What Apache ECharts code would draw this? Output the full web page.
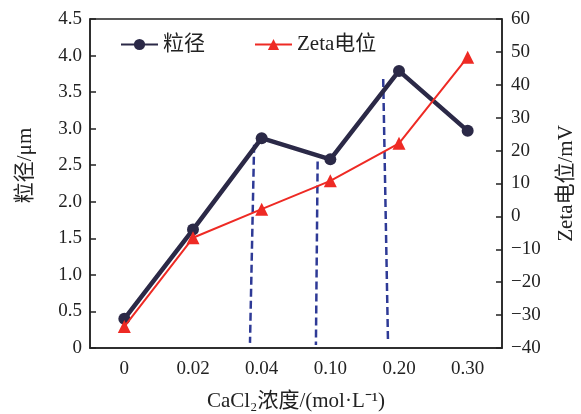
<!DOCTYPE html>
<html><head><meta charset="utf-8">
<script src="https://cdn.jsdelivr.net/npm/echarts@6/dist/echarts.min.js"></script>
<style>html,body{margin:0;padding:0;background:#fff}#c{width:581px;height:414px}</style>
</head><body><div id="c"></div>
<script>
const categories = ['0', '0.02', '0.04', '0.10', '0.20', '0.30'];
const particleSize = [0.40, 1.62, 2.87, 2.58, 3.79, 2.97];
const zetaPotential = [-33.5, -6.5, 2.2, 10.8, 22.2, 48.4];
// dashed guide lines: [categoryPosition, value] pairs (top, bottom)
const dashLine1 = [[1.89, 2.78], [1.83, 0.07]];
const dashLine2 = [[2.815, 2.55], [2.79, 0.04]];
const dashLine3 = [[3.77, 3.68], [3.84, 0.07]];
const seriesNames = ['粒径', 'Zeta电位'];

const FONT = '"Liberation Serif", "Noto Sans CJK SC", serif';
const chart = echarts.init(document.getElementById('c'));
const dashStyle = {color: '#2e3a96', width: 2.5, type: [8, 4]};
function dashSeries(d) {
  return {type: 'line', xAxisIndex: 1, yAxisIndex: 0, data: d, symbol: 'none',
    lineStyle: dashStyle, silent: true, z: 1, animation: false};
}
const axisCommon = {
  axisLine: {show: true, onZero: false, lineStyle: {color: '#222', width: 1.5}},
  axisTick: {show: true, inside: true, length: 6, lineStyle: {color: '#222', width: 1.5}},
  splitLine: {show: false}
};
chart.setOption({
  animation: false,
  backgroundColor: '#fff',
  textStyle: {fontFamily: FONT},
  grid: {left: 90, right: 79, top: 19, bottom: 66, outerBoundsMode: 'none', containLabel: false,
    show: true, borderColor: '#222', borderWidth: 1.5, backgroundColor: 'transparent'},
  legend: {
    left: 120, top: 34, padding: 0, itemWidth: 37, itemHeight: 14, itemGap: 49,
    textStyle: {fontFamily: FONT, fontSize: 21, color: '#222'},
    data: seriesNames
  },
  xAxis: [{
    type: 'category', data: categories, boundaryGap: true,
    axisLine: {lineStyle: {color: '#222', width: 1.5}},
    axisTick: {alignWithLabel: true, inside: true, length: 6, lineStyle: {color: '#222', width: 1.5}},
    axisLabel: {fontFamily: FONT, fontSize: 19, color: '#222', margin: 12},
    name: 'CaCl₂浓度/(mol·L⁻¹)', nameLocation: 'middle', nameGap: 43,
    nameTextStyle: {fontFamily: FONT, fontSize: 21, color: '#222'}
  }, {
    type: 'value', min: -0.5, max: 5.5, show: false
  }],
  yAxis: [Object.assign({
    type: 'value', min: 0, max: 4.5, interval: 0.5,
    axisLabel: {fontFamily: FONT, fontSize: 19, color: '#222', margin: 8,
      formatter: v => v === 0 ? '0' : v.toFixed(1)},
    name: '粒径/μm', nameLocation: 'middle', nameGap: 54,
    nameTextStyle: {fontFamily: FONT, fontSize: 21, color: '#222', padding: [0, 0, 0, 36]}
  }, axisCommon), Object.assign({
    type: 'value', min: -40, max: 60, interval: 10, position: 'right',
    axisLabel: {fontFamily: FONT, fontSize: 19, color: '#222', margin: 9,
      formatter: v => String(v).replace('-', '−')},
    name: 'Zeta电位/mV', nameLocation: 'middle', nameGap: 54, nameRotate: 90,
    nameTextStyle: {fontFamily: FONT, fontSize: 21, color: '#222'}
  }, axisCommon)],
  series: [
    dashSeries(dashLine1), dashSeries(dashLine2), dashSeries(dashLine3),
    {name: seriesNames[0], type: 'line', data: particleSize, yAxisIndex: 0,
      symbol: 'circle', symbolSize: 12, z: 3,
      lineStyle: {color: '#2b2947', width: 4.5}, itemStyle: {color: '#2b2947'}},
    {name: seriesNames[1], type: 'line', data: zetaPotential, yAxisIndex: 1,
      symbol: 'triangle', symbolSize: 13, z: 4,
      lineStyle: {color: '#ee2a24', width: 2}, itemStyle: {color: '#ee2a24'}}
  ]
});
</script></body></html>
